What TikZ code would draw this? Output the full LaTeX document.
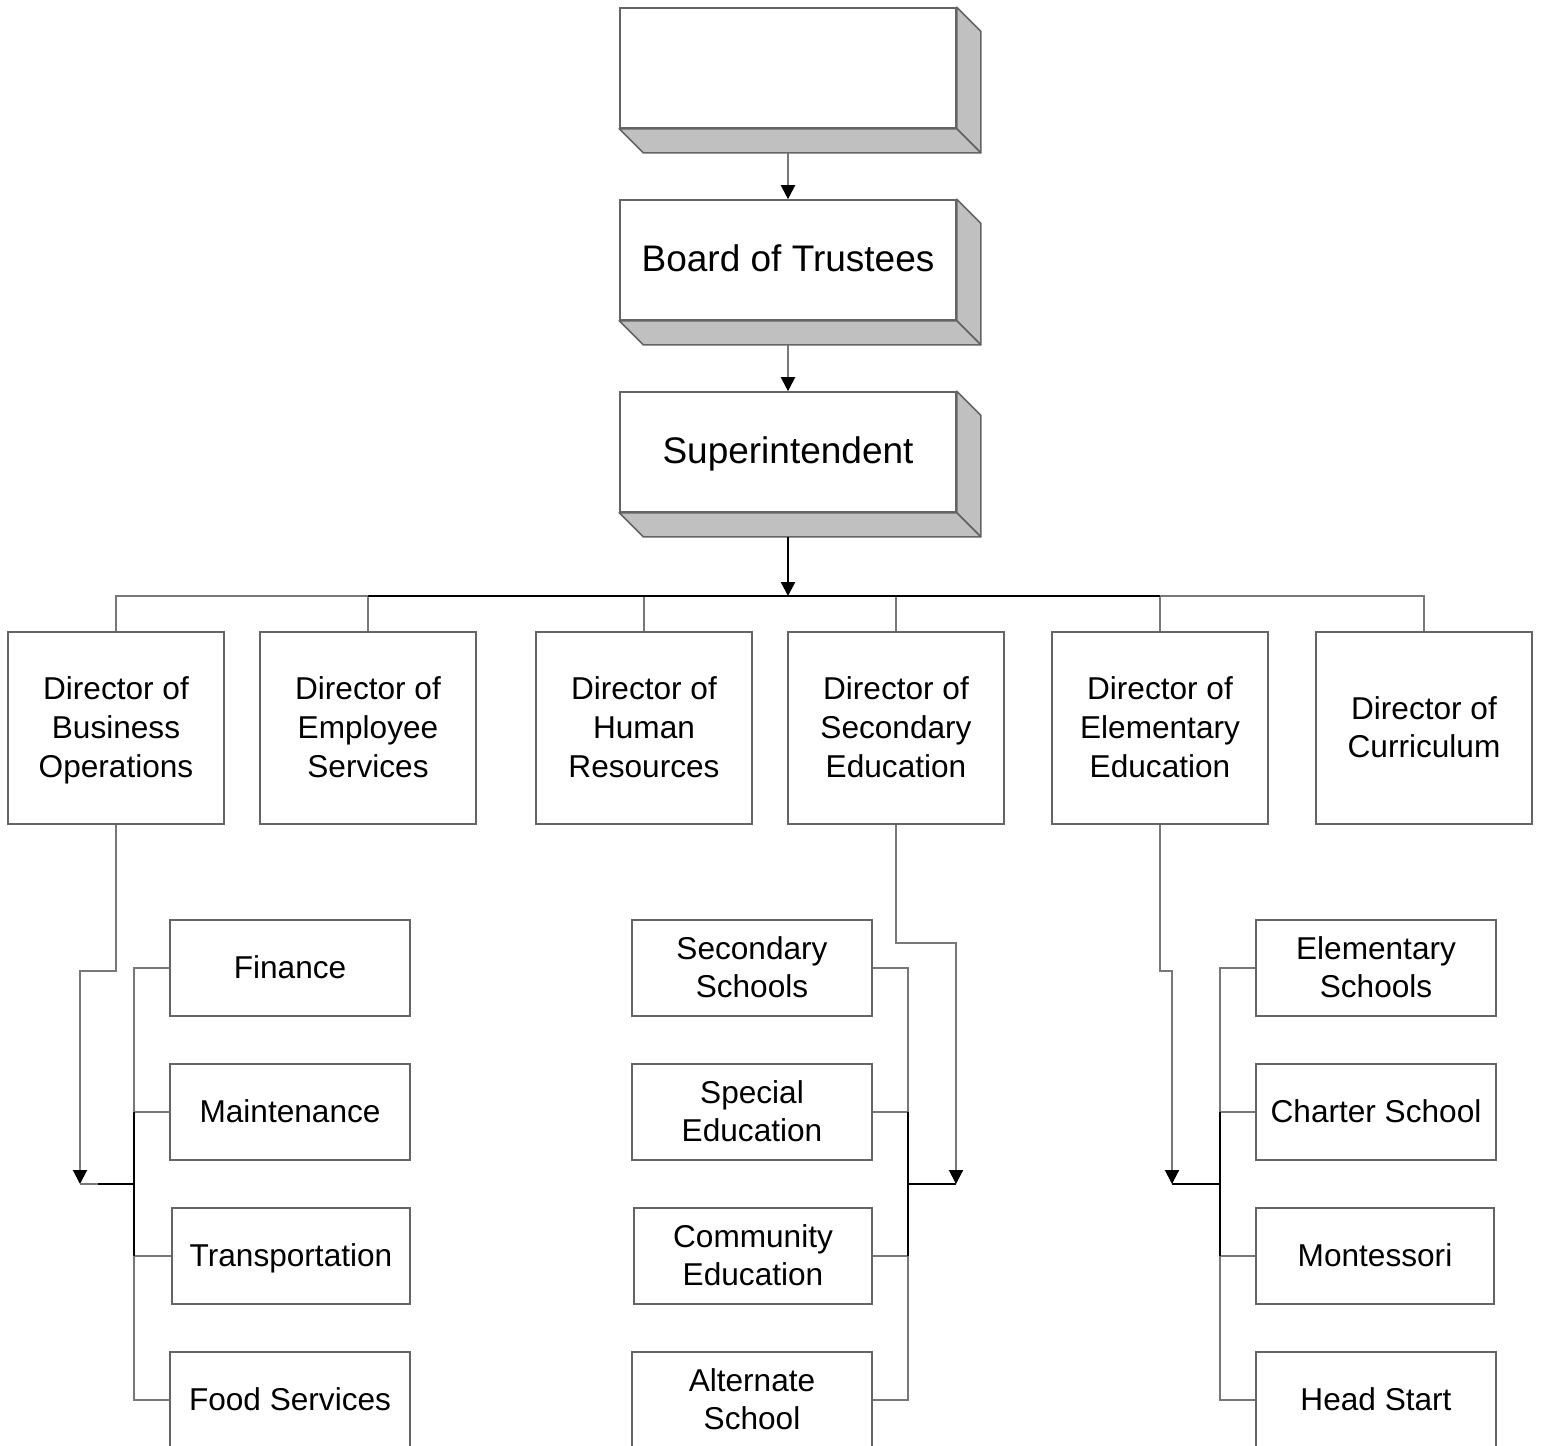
\documentclass[tikz,border=0pt]{standalone}
\usepackage{fontspec}
\setmainfont{Liberation Sans}
\usetikzlibrary{calc,arrows.meta}
\definecolor{lg}{RGB}{120,120,120}
\definecolor{bd}{RGB}{100,100,100}
\definecolor{sh}{RGB}{192,192,192}
\tikzset{
  box3d/.style={draw=bd, line width=0.8pt, fill=white, minimum width=168pt, minimum height=60pt, inner sep=0pt, text depth=2pt, font=\fontsize{18.5pt}{22pt}\selectfont},
  dirbox/.style={draw=bd, line width=0.7pt, fill=white, minimum width=108pt, minimum height=96pt, inner sep=0pt, align=center, text depth=1pt, font=\fontsize{15.8pt}{19.3pt}\selectfont},
  subbox/.style={draw=bd, line width=0.7pt, fill=white, minimum width=120pt, minimum height=48pt, inner sep=0pt, align=center, text depth=1pt, font=\fontsize{15.8pt}{19.3pt}\selectfont},
  gl/.style={draw=lg, line width=1pt},
  bl/.style={draw=black, line width=1.2pt},
  arr/.style={-{Triangle[width=7pt,length=7pt,color=black]}},
  face/.style={fill=sh, draw=bd, line width=0.8pt, line join=round},
}
\newcommand{\shadebox}[1]{%
  \filldraw[face] (#1.north east) -- ++(24,24) -- ($(#1.south east)+(24,24)$) -- (#1.south east) -- cycle;
  \filldraw[face] (#1.south west) -- (#1.south east) -- ++(24,24) -- ($(#1.south west)+(24,24)$) -- cycle;
}
\begin{document}
\begin{tikzpicture}[x=0.5pt,y=-0.5pt]
\clip (0,0) rectangle (1541,1445);
\fill[white] (0,0) rectangle (1541,1445);
% top boxes
\node[box3d] (top) at (788,68) {};
\node[box3d] (bot) at (788,260) {Board of Trustees};
\node[box3d] (sup) at (788,452) {Superintendent};
\shadebox{top}
\shadebox{bot}
\shadebox{sup}
\coordinate (topb) at ($(top.south)+(0,24)$);
\coordinate (botb) at ($(bot.south)+(0,24)$);
\coordinate (supb) at ($(sup.south)+(0,24)$);
\draw[gl,arr] (topb) -- (bot.north);
\draw[gl,arr] (botb) -- (sup.north);
% directors
\node[dirbox] (d1) at (116,728) {Director of\\Business\\Operations};
\node[dirbox] (d2) at (368,728) {Director of\\Employee\\Services};
\node[dirbox] (d3) at (644,728) {Director of\\Human\\Resources};
\node[dirbox] (d4) at (896,728) {Director of\\Secondary\\Education};
\node[dirbox] (d5) at (1160,728) {Director of\\Elementary\\Education};
\node[dirbox] (d6) at (1424,728) {Director of\\Curriculum};
\coordinate (bus) at (788,596);
\coordinate (busL) at (368,596);
\coordinate (busR) at (1160,596);
\foreach \d in {d1,d2,d3,d4,d5,d6} {\draw[gl] (\d.north) |- (bus);}
\draw[bl] (busL) -- (busR);
\draw[bl,arr] (supb) -- (bus);
% left group
\node[subbox] (fin) at (290,968) {Finance};
\node[subbox] (mnt) at (290,1112) {Maintenance};
\node[subbox, minimum width=119pt] (trn) at (291,1256) {Transportation};
\node[subbox] (food) at (290,1400) {Food Services};
\coordinate (lk) at (80,971);
\coordinate (la) at (80,1184);
\coordinate (lg1) at (98,1184);
\coordinate (lt) at (134,1184);
\draw[gl,arr] (d1.south) |- (lk) -- (la);
\draw[gl] (la) -- (lg1);
\draw[gl] (fin.west) -| (lt);
\draw[gl] (food.west) -| (lt);
\draw[gl] (mnt.west) -- (mnt.west -| lt);
\draw[gl] (trn.west) -- (trn.west -| lt);
\draw[bl] (lg1) -- (lt);
\draw[bl] (mnt.west -| lt) -- (trn.west -| lt);
% middle group
\node[subbox] (ss) at (752,968) {Secondary\\Schools};
\node[subbox] (se) at (752,1112) {Special\\Education};
\node[subbox, minimum width=119pt] (ce) at (753,1256) {Community\\Education};
\node[subbox] (as) at (752,1400) {Alternate\\School};
\coordinate (mk) at (956,943);
\coordinate (ma) at (956,1184);
\coordinate (mt) at (908,1184);
\draw[gl,arr] (d4.south) |- (mk) -- (ma);
\draw[gl] (ss.east) -| (mt);
\draw[gl] (as.east) -| (mt);
\draw[gl] (se.east) -- (se.east -| mt);
\draw[gl] (ce.east) -- (ce.east -| mt);
\draw[bl] (ma) -- (mt);
\draw[bl] (se.east -| mt) -- (ce.east -| mt);
% right group
\node[subbox] (es) at (1376,968) {Elementary\\Schools};
\node[subbox] (cs) at (1376,1112) {Charter School};
\node[subbox, minimum width=119pt] (mo) at (1375,1256) {Montessori};
\node[subbox] (hs) at (1376,1400) {Head Start};
\coordinate (rk) at (1172,971);
\coordinate (ra) at (1172,1184);
\coordinate (rt) at (1220,1184);
\draw[gl,arr] (d5.south) |- (rk) -- (ra);
\draw[gl] (es.west) -| (rt);
\draw[gl] (hs.west) -| (rt);
\draw[gl] (cs.west) -- (cs.west -| rt);
\draw[gl] (mo.west) -- (mo.west -| rt);
\draw[bl] (ra) -- (rt);
\draw[bl] (cs.west -| rt) -- (mo.west -| rt);
\end{tikzpicture}
\end{document}
